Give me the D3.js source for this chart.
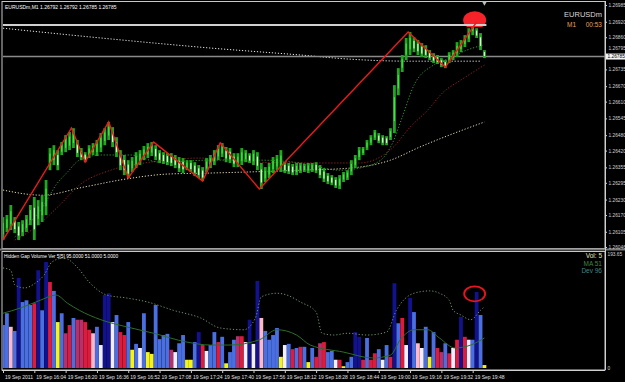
<!DOCTYPE html>
<html>
<head>
<meta charset="utf-8">
<style>
html, body { margin: 0; padding: 0; background: #000; overflow: hidden; }
svg { display: block; }
</style>
<script src="https://d3js.org/d3.v7.min.js"></script>
</head>
<body>
<div id="chart"></div>
<script>
// ---- data ----
var symbolTitle = "EURUSDm,M1  1.26792 1.26792 1.26785 1.26785";
var indicatorTitle = "Hidden Gap Volume Ver 5[5] 95.0000 51.0000 5.0000";

var timeBars = [0, 16, 32, 48, 64, 80, 96, 112, 128, 144, 160, 176, 192, 208, 224, 240];
var timeLabels = ["19 Sep 2011", "19 Sep 16:04", "19 Sep 16:20", "19 Sep 16:36", "19 Sep 16:52",
    "19 Sep 17:08", "19 Sep 17:24", "19 Sep 17:40", "19 Sep 17:56", "19 Sep 18:12", "19 Sep 18:28",
    "19 Sep 18:44", "19 Sep 19:00", "19 Sep 19:16", "19 Sep 19:32", "19 Sep 19:48"];

var priceTicks = [1.26985, 1.26920, 1.26860, 1.26795, 1.26735, 1.26670, 1.26610, 1.26545,
    1.26480, 1.26420, 1.26355, 1.26295, 1.26230, 1.26170, 1.26105, 1.26046];

// one entry per two M1 bars
var highs = [1.26162,1.26170,1.26209,1.26162,1.26143,1.26150,1.26170,1.26209,1.26240,1.26228,
    1.26247,1.26306,1.26430,1.26441,1.26422,1.26453,1.26480,1.26492,1.26507,1.26461,
    1.26430,1.26414,1.26441,1.26449,1.26461,1.26488,1.26507,1.26531,1.26511,1.26472,
    1.26422,1.26403,1.26383,1.26395,1.26414,1.26422,1.26438,1.26449,1.26453,1.26441,
    1.26422,1.26414,1.26410,1.26410,1.26403,1.26395,1.26391,1.26383,1.26383,1.26375,
    1.26364,1.26356,1.26391,1.26403,1.26422,1.26441,1.26449,1.26434,1.26430,1.26410,
    1.26410,1.26430,1.26422,1.26410,1.26422,1.26414,1.26372,1.26356,1.26372,1.26395,
    1.26403,1.26422,1.26375,1.26372,1.26368,1.26372,1.26372,1.26368,1.26372,1.26372,
    1.26375,1.26364,1.26352,1.26333,1.26325,1.26317,1.26325,1.26337,1.26344,1.26383,
    1.26403,1.26434,1.26434,1.26461,1.26480,1.26500,1.26488,1.26480,1.26476,1.26507,
    1.26674,1.26740,1.26791,1.26857,1.26880,1.26860,1.26849,1.26837,1.26829,1.26810,
    1.26798,1.26791,1.26779,1.26771,1.26802,1.26810,1.26841,1.26849,1.26868,1.26895,
    1.26934,1.26895,1.26876,1.26810];
var lows = [1.26073,1.26104,1.26112,1.26100,1.26073,1.26088,1.26104,1.26131,1.26073,1.26131,
    1.26143,1.26170,1.26344,1.26364,1.26344,1.26403,1.26414,1.26422,1.26430,1.26395,
    1.26383,1.26375,1.26391,1.26403,1.26399,1.26414,1.26441,1.26461,1.26434,1.26395,
    1.26344,1.26325,1.26313,1.26337,1.26352,1.26364,1.26383,1.26391,1.26399,1.26383,
    1.26372,1.26368,1.26364,1.26360,1.26352,1.26337,1.26333,1.26344,1.26337,1.26321,
    1.26313,1.26302,1.26337,1.26352,1.26364,1.26383,1.26395,1.26375,1.26372,1.26356,
    1.26356,1.26364,1.26375,1.26372,1.26364,1.26344,1.26271,1.26298,1.26313,1.26333,
    1.26344,1.26337,1.26333,1.26329,1.26325,1.26325,1.26333,1.26337,1.26333,1.26337,
    1.26333,1.26313,1.26298,1.26290,1.26286,1.26275,1.26271,1.26298,1.26306,1.26325,
    1.26352,1.26383,1.26403,1.26422,1.26441,1.26461,1.26449,1.26441,1.26441,1.26461,
    1.26488,1.26635,1.26725,1.26771,1.26791,1.26802,1.26791,1.26783,1.26779,1.26771,
    1.26760,1.26756,1.26744,1.26740,1.26760,1.26771,1.26783,1.26802,1.26822,1.26841,
    1.26868,1.26857,1.26810,1.26779];

var zigzagBars = [0, 35, 42, 54, 64, 77, 102, 111, 131, 207, 226, 242];
var zigzagPrices = [1.26073, 1.26508, 1.26376, 1.26531, 1.26314, 1.26453, 1.26302, 1.26450,
    1.26271, 1.26880, 1.26744, 1.26919];

var maWhite = [[0,1.26895],[50,1.26857],[106,1.26818],[152,1.26791],[177,1.26775],[208,1.26767],[244,1.26767]];
var maCream = [[0,1.26267],[20,1.26247],[41,1.26278],[63,1.26310],[84,1.26329],[106,1.26333],
    [152,1.26344],[177,1.26352],[198,1.26383],[213,1.26434],[228,1.26480],[246,1.26531]];
var maRed = [[6,1.26073],[16,1.26119],[29,1.26209],[39,1.26286],[55,1.26344],[75,1.26375],
    [101,1.26391],[131,1.26375],[167,1.26372],[182,1.26372],[199,1.26430],[208,1.26511],
    [217,1.26577],[225,1.26647],[234,1.26694],[246,1.26752]];
var maGreen = [[6,1.26085],[14,1.26143],[21,1.26209],[27,1.26286],[33,1.26337],[39,1.26383],
    [50,1.26403],[65,1.26403],[80,1.26375],[106,1.26383],[131,1.26383],[152,1.26372],
    [172,1.26344],[182,1.26352],[193,1.26383],[199,1.26449],[204,1.26550],[210,1.26674],
    [220,1.26752],[228,1.26779],[237,1.26810],[245,1.26829]];

var bidPrice = 1.26785;
var levelPrice = 1.26907;
var levelEndBar = 247;
var markBar = 241, markPrice = 1.26926;

// volume pane, one entry per two bars
var volumes = [73,93,70,63,153,112,115,107,110,166,
    98,180,146,131,78,93,59,73,85,82,
    82,78,65,59,70,39,124,127,78,90,
    61,56,78,31,41,34,93,27,24,107,
    49,56,58,31,27,42,56,14,14,44,
    61,39,29,39,61,44,53,8,27,48,
    54,54,44,82,41,148,85,63,48,56,
    68,19,39,41,32,34,36,36,10,34,
    19,42,44,27,29,14,14,3,10,19,
    61,53,14,51,14,25,32,14,39,19,
    144,76,85,39,119,95,42,34,70,19,
    61,34,27,42,25,34,48,87,53,48,
    48,129,90,5];
var volumeKinds = ("BBPBNBBBRN" + "BNRBYBMRBM" + "MRRPBWNNWB" + "RRBYBWBYYB" + "BBBMWBBYYB" +
    "NRWBBRBYBB" + "MRWNWNPBBB" + "BYWBRBRBYB" + "RMRBBWRYBB" + "NNRBRRBWBR" +
    "NBRWNBPWBY" + "BRMBRWRNRW" + "BNBY").split("");
var volMA = [[0,93],[9,102],[19,115],[27,124],[33,110],[39,98],[50,82],[63,70],[77,59],[94,44],
    [106,39],[116,39],[131,48],[140,65],[150,56],[157,39],[174,27],[189,17],[198,22],[203,48],
    [210,65],[217,65],[223,51],[231,34],[239,39],[246,51]];
var volDev = [[0,170],[4,166],[6,141],[11,136],[16,143],[21,158],[25,180],[31,187],[38,171],
    [44,146],[53,124],[63,119],[74,112],[87,98],[101,85],[111,68],[123,65],[129,85],[132,121],
    [140,127],[145,124],[152,112],[160,95],[163,59],[169,56],[176,59],[186,56],[196,61],
    [201,98],[210,127],[218,131],[223,127],[228,115],[230,98],[234,90],[239,82],[244,98],[246,104]];
var volMax = 193.65;
var volMarkBar = 241, volMarkValue = 126;
var legendLines = ["Vol: 5", "MA  51", "Dev  96"];

// ---- drawing ----
var width = 625, height = 382;
var font = "'Liberation Sans', Arial, sans-serif";
var kindColor = { B: "#4a6fe3", N: "#12128e", R: "#dc1c3c", P: "#ffb8c8", W: "#f2eeff", Y: "#f4f41c", M: "#b8306a" };

var svg = d3.select('#chart').append('svg')
    .attr('width', width).attr('height', height)
    .style('background', '#000');

var x = d3.scaleLinear().domain([0, 240]).range([3, 472.7]);
var y = d3.scaleLinear().domain([1.26046, 1.26985]).range([247, 5]);
var yv = d3.scaleLinear().domain([0, volMax]).range([368, 254]);

var defs = svg.append('defs');
defs.append('clipPath').attr('id', 'mainClip').append('rect')
    .attr('x', 3).attr('y', 3).attr('width', 602).attr('height', 245);
defs.append('clipPath').attr('id', 'volClip').append('rect')
    .attr('x', 3).attr('y', 252).attr('width', 602).attr('height', 117);
defs.append('clipPath').attr('id', 'markClip').append('rect')
    .attr('x', 3).attr('y', 3).attr('width', 602).attr('height', y(levelPrice) + 2 - 3);

// frames
svg.append('rect').attr('x', 2).attr('y', 1.5).attr('width', 603).attr('height', 247)
    .attr('fill', 'none').attr('stroke', '#c8c8c8').attr('stroke-width', 1);
svg.append('rect').attr('x', 0).attr('y', 248.5).attr('width', 625).attr('height', 2).attr('fill', '#7a7a7a');
svg.append('rect').attr('x', 2).attr('y', 251.5).attr('width', 603).attr('height', 118.5)
    .attr('fill', 'none').attr('stroke', '#c8c8c8').attr('stroke-width', 1);

var main = svg.append('g').attr('clip-path', 'url(#mainClip)');

var line = d3.line().x(function(d) { return x(d[0]); }).y(function(d) { return y(d[1]); })
    .curve(d3.curveMonotoneX);

// moving averages (dotted)
[[maWhite, '#e8e8e8'], [maCream, '#e6dcaa'], [maRed, '#9a2020'], [maGreen, '#2f9a2f']].forEach(function(m) {
    main.append('path').attr('d', line(m[0])).attr('fill', 'none')
        .attr('stroke', m[1]).attr('stroke-width', 1).attr('stroke-dasharray', '1.2,1.8');
});

// bid line
main.append('line').attr('x1', 3).attr('x2', 605).attr('y1', y(bidPrice)).attr('y2', y(bidPrice))
    .attr('stroke', '#8a8a8a').attr('stroke-width', 1.5);

// candles
var candles = main.append('g');
highs.forEach(function(h, i) {
    var cx = x(i * 2);
    var top = y(h), bot = y(lows[i]);
    var mid = (h + lows[i]) / 2;
    var prevMid = i > 0 ? (highs[i - 1] + lows[i - 1]) / 2 : mid;
    candles.append('rect').attr('x', cx - 1.4).attr('y', top).attr('width', 2.8)
        .attr('height', Math.max(1, bot - top)).attr('fill', '#1ea81e');
    candles.append('rect').attr('x', cx - 0.6).attr('y', top + (bot - top) * 0.25).attr('width', 1.2)
        .attr('height', Math.max(1, (bot - top) * 0.5))
        .attr('fill', mid < prevMid ? '#d8ffd0' : '#46e046');
});

// marker circle at the top
main.append('g').attr('clip-path', 'url(#markClip)').append('ellipse')
    .attr('cx', x(markBar)).attr('cy', y(markPrice)).attr('rx', 11.5).attr('ry', 9)
    .attr('fill', '#f5222a');

// horizontal level
main.append('line').attr('x1', 3).attr('x2', x(levelEndBar)).attr('y1', y(levelPrice)).attr('y2', y(levelPrice))
    .attr('stroke', '#cfcfcf').attr('stroke-width', 2);

// zigzag
var zz = zigzagBars.map(function(b, i) { return [b, zigzagPrices[i]]; });
main.append('path').attr('d', d3.line().x(function(d) { return x(d[0]); }).y(function(d) { return y(d[1]); })(zz))
    .attr('fill', 'none').attr('stroke', '#ee1a1a').attr('stroke-width', 1.4);

// shift marker
svg.append('path').attr('d', d3.symbol().type(d3.symbolTriangle).size(10)())
    .attr('transform', 'translate(' + x(246) + ',3) rotate(180)').attr('fill', '#bbb');

// title texts
svg.append('text').attr('x', 5).attr('y', 8.5).text(symbolTitle)
    .attr('fill', '#fff').attr('font-size', 5).attr('font-family', font);
svg.append('text').attr('x', 602).attr('y', 17).attr('text-anchor', 'end').text('EURUSDm')
    .attr('fill', '#d8d8d8').attr('font-size', 7.5).attr('font-family', font);
svg.append('text').attr('x', 567).attr('y', 27).text('M1')
    .attr('fill', '#e0a060').attr('font-size', 6.5).attr('font-family', font);
svg.append('text').attr('x', 602).attr('y', 27).attr('text-anchor', 'end').text('00:53')
    .attr('fill', '#e0a060').attr('font-size', 6.5).attr('font-family', font);

// price axis
var pAxis = svg.append('g').attr('transform', 'translate(605,0)')
    .call(d3.axisRight(y).tickValues(priceTicks).tickSize(2).tickPadding(1.5).tickFormat(d3.format('.5f')));
pAxis.select('.domain').attr('stroke', '#d0d0d0').attr('d', 'M0.5,1V370');
pAxis.selectAll('line').attr('stroke', '#d0d0d0');
pAxis.selectAll('text').attr('fill', '#d0d0d0').attr('font-size', 4.8).attr('font-family', font)
    .attr('dy', function(d) { return Math.abs(y(d) - y(bidPrice)) < 7 ? '-0.9em' : '0.32em'; });

// bid label
var bidG = svg.append('g').attr('transform', 'translate(605,' + y(bidPrice) + ')');
bidG.append('rect').attr('x', 1).attr('y', -3).attr('width', 20).attr('height', 6).attr('fill', '#f4f4f4');
bidG.append('text').attr('x', 2.5).attr('y', 1.7).text(d3.format('.5f')(bidPrice))
    .attr('fill', '#000').attr('font-size', 4.8).attr('font-family', font);

// ---- volume pane ----
var vol = svg.append('g').attr('clip-path', 'url(#volClip)');
vol.selectAll('rect.v').data(volumes).enter().append('rect')
    .attr('x', function(d, i) { return x(i * 2) - 1.9; })
    .attr('width', 3.8)
    .attr('y', function(d) { return yv(d); })
    .attr('height', function(d) { return yv(0) - yv(d); })
    .attr('fill', function(d, i) { return kindColor[volumeKinds[i]]; });

var vline = d3.line().x(function(d) { return x(d[0]); }).y(function(d) { return yv(d[1]); })
    .curve(d3.curveMonotoneX);
vol.append('path').attr('d', vline(volMA)).attr('fill', 'none').attr('stroke', '#2c6e2c').attr('stroke-width', 1);
vol.append('path').attr('d', vline(volDev)).attr('fill', 'none').attr('stroke', '#6a9a6a')
    .attr('stroke-width', 1).attr('stroke-dasharray', '1.2,2');

vol.append('ellipse').attr('cx', x(volMarkBar)).attr('cy', yv(volMarkValue)).attr('rx', 10.5).attr('ry', 7.5)
    .attr('fill', 'none').attr('stroke', '#e8141e').attr('stroke-width', 1.8);

svg.append('text').attr('x', 4).attr('y', 257.5).text(indicatorTitle)
    .attr('fill', '#fff').attr('font-size', 4.8).attr('font-family', font);

var legendColors = ['#e6e6b4', '#3f8a3f', '#3f8686'];
legendLines.forEach(function(t, i) {
    svg.append('text').attr('x', 602).attr('y', 258 + i * 7.5).attr('text-anchor', 'end').text(t)
        .attr('fill', legendColors[i]).attr('font-size', 6.5).attr('font-family', font);
});

var vAxis = svg.append('g').attr('transform', 'translate(605,0)')
    .call(d3.axisRight(yv).tickValues([volMax, 0]).tickSize(0).tickPadding(2.5)
        .tickFormat(function(d) { return d === 0 ? '0' : d.toFixed(2); }));
vAxis.select('.domain').remove();
vAxis.selectAll('text').attr('fill', '#d0d0d0').attr('font-size', 4.8).attr('font-family', font);

// time axis
var tAxis = svg.append('g').attr('transform', 'translate(0,370)')
    .call(d3.axisBottom(x).tickValues(timeBars).tickSize(3).tickPadding(2)
        .tickFormat(function(d, i) { return timeLabels[i]; }));
tAxis.select('.domain').attr('stroke', '#d0d0d0').attr('d', 'M2,0.5H605');
tAxis.selectAll('line').attr('stroke', '#d0d0d0');
tAxis.selectAll('text').attr('fill', '#e0e0e0').attr('font-size', 5).attr('font-family', font)
    .attr('text-anchor', 'start').attr('dx', 1.5);
</script>
</body>
</html>
